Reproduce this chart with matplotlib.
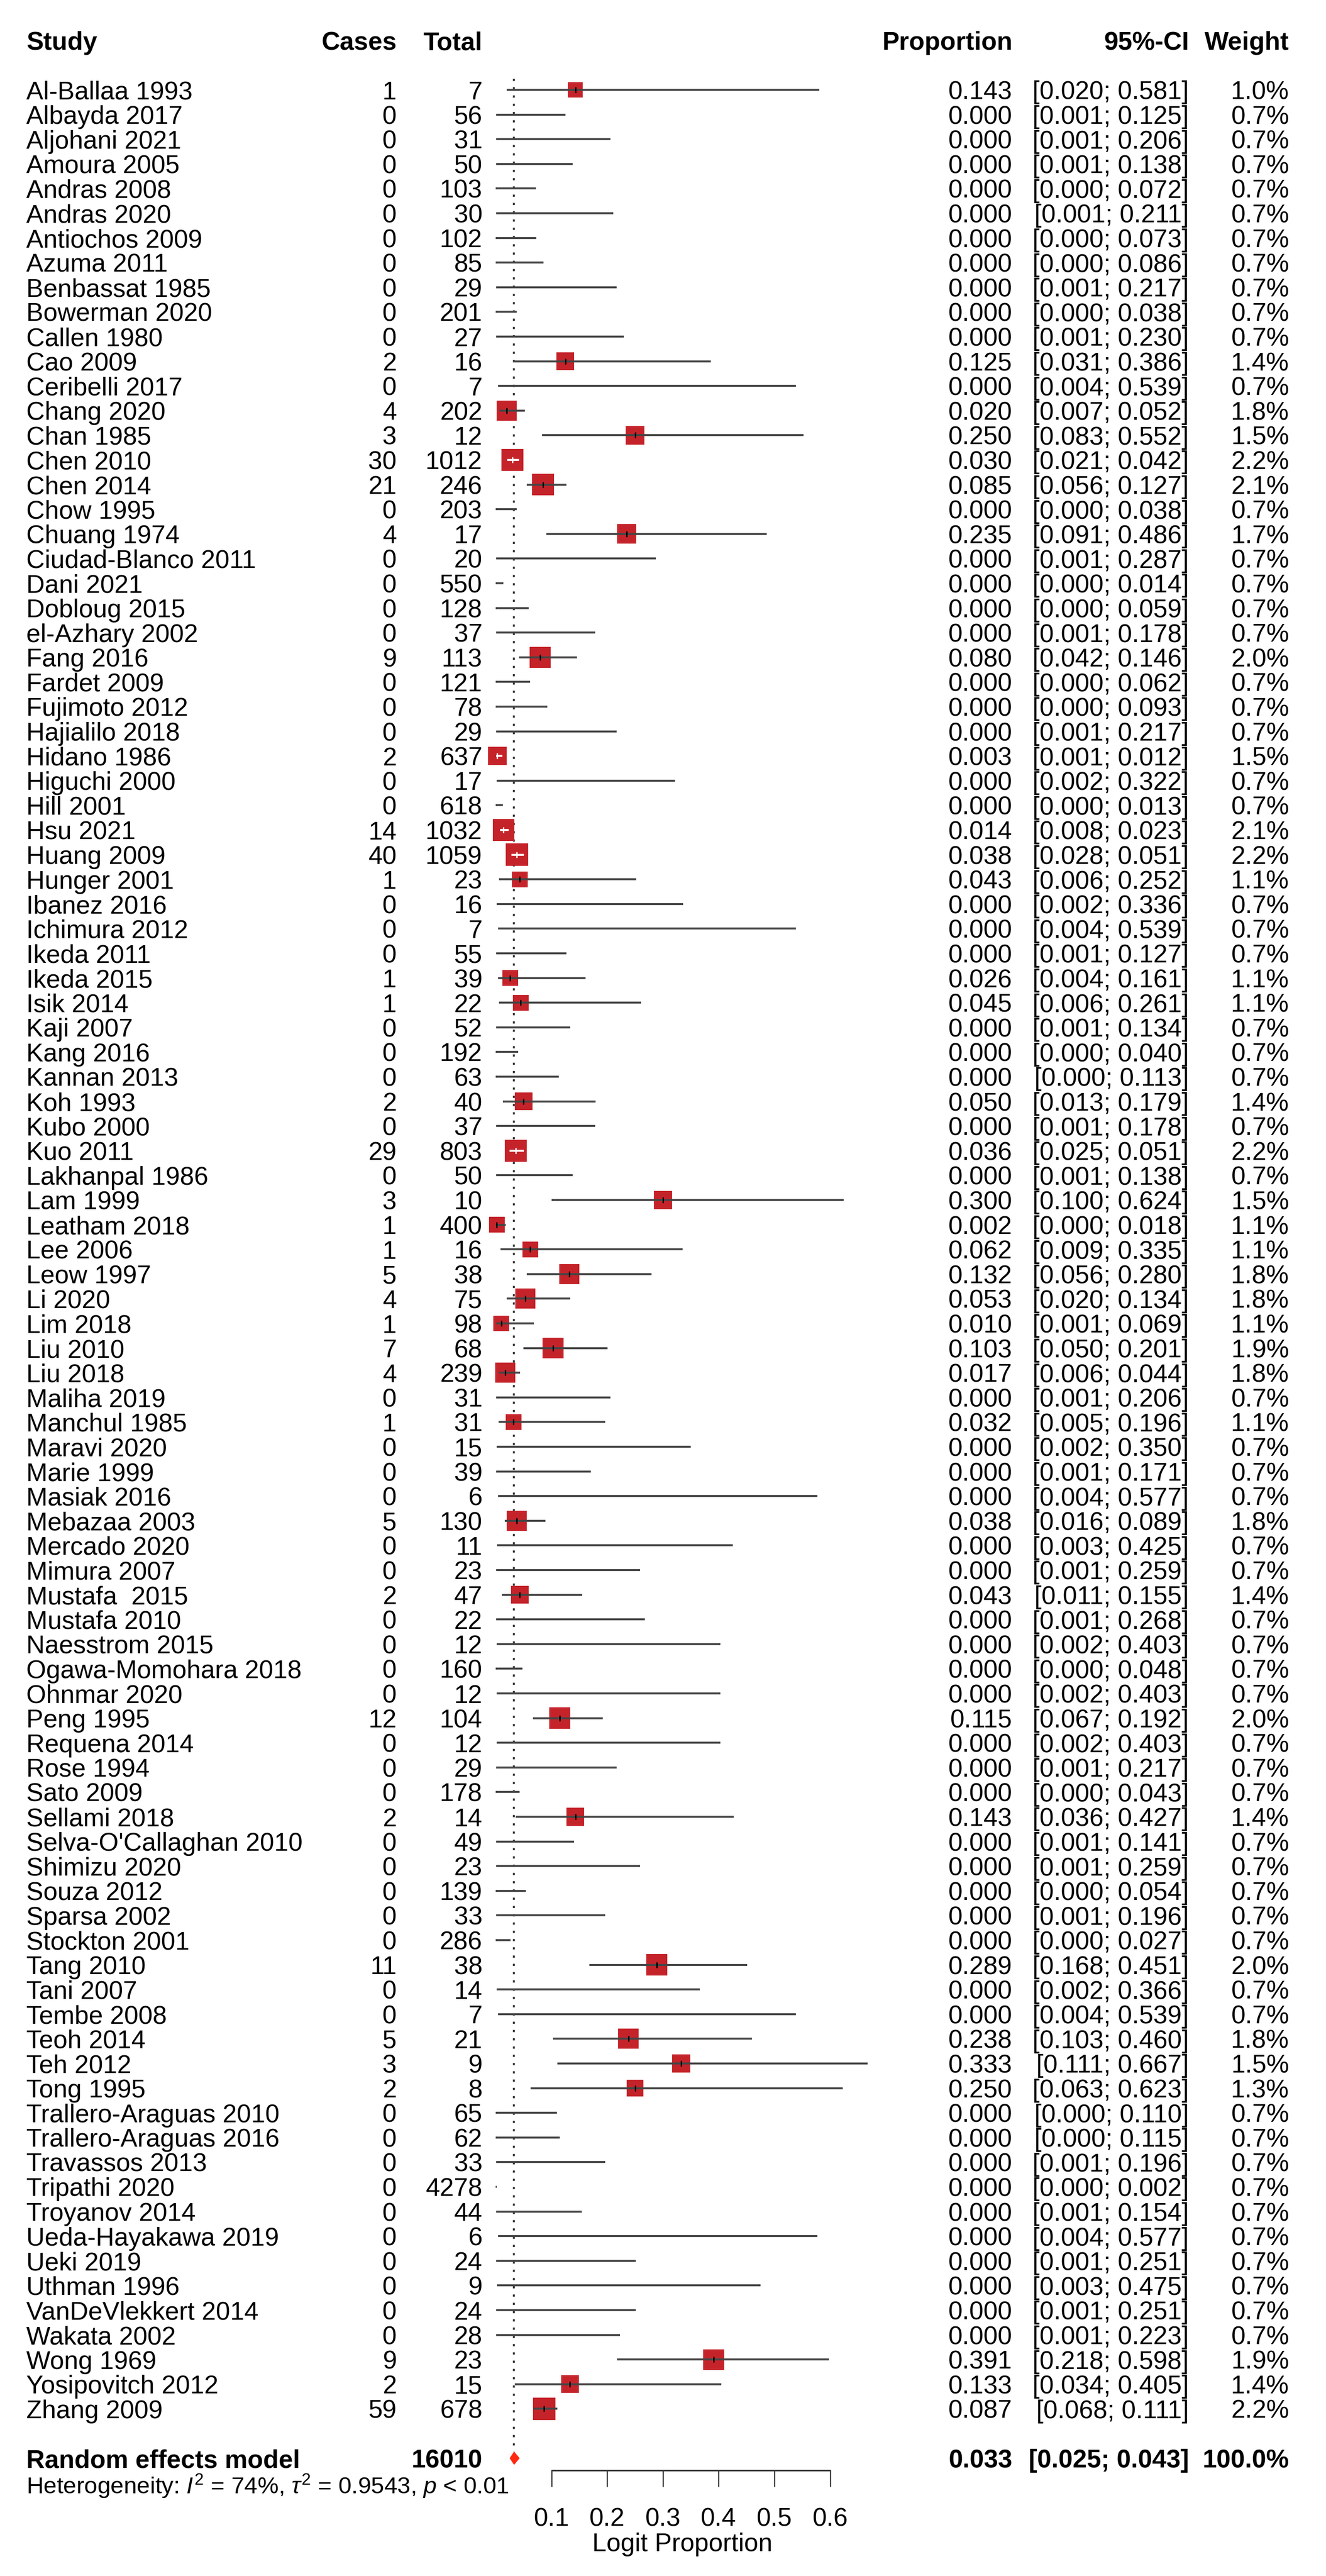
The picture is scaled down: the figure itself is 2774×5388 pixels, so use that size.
import numpy as np
import matplotlib
matplotlib.use('Agg')
import matplotlib.pyplot as plt
from matplotlib.patches import Rectangle, Polygon
from matplotlib.transforms import blended_transform_factory

plt.rcParams['font.family'] = ['Liberation Sans', 'DejaVu Sans']
plt.rcParams['mathtext.fontset'] = 'custom'
plt.rcParams['mathtext.rm'] = 'Liberation Sans'
plt.rcParams['mathtext.it'] = 'Liberation Sans:italic'
plt.rcParams['lines.scale_dashes'] = False

# study data
studies = [
    "Al-Ballaa 1993", "Albayda 2017", "Aljohani 2021", "Amoura 2005", "Andras 2008",
    "Andras 2020", "Antiochos 2009", "Azuma 2011", "Benbassat 1985", "Bowerman 2020",
    "Callen 1980", "Cao 2009", "Ceribelli 2017", "Chang 2020", "Chan 1985",
    "Chen 2010", "Chen 2014", "Chow 1995", "Chuang 1974", "Ciudad-Blanco 2011",
    "Dani 2021", "Dobloug 2015", "el-Azhary 2002", "Fang 2016", "Fardet 2009",
    "Fujimoto 2012", "Hajialilo 2018", "Hidano 1986", "Higuchi 2000", "Hill 2001",
    "Hsu 2021", "Huang 2009", "Hunger 2001", "Ibanez 2016", "Ichimura 2012",
    "Ikeda 2011", "Ikeda 2015", "Isik 2014", "Kaji 2007", "Kang 2016",
    "Kannan 2013", "Koh 1993", "Kubo 2000", "Kuo 2011", "Lakhanpal 1986",
    "Lam 1999", "Leatham 2018", "Lee 2006", "Leow 1997", "Li 2020",
    "Lim 2018", "Liu 2010", "Liu 2018", "Maliha 2019", "Manchul 1985",
    "Maravi 2020", "Marie 1999", "Masiak 2016", "Mebazaa 2003", "Mercado 2020",
    "Mimura 2007", "Mustafa  2015", "Mustafa 2010", "Naesstrom 2015", "Ogawa-Momohara 2018",
    "Ohnmar 2020", "Peng 1995", "Requena 2014", "Rose 1994", "Sato 2009",
    "Sellami 2018", "Selva-O'Callaghan 2010", "Shimizu 2020", "Souza 2012", "Sparsa 2002",
    "Stockton 2001", "Tang 2010", "Tani 2007", "Tembe 2008", "Teoh 2014",
    "Teh 2012", "Tong 1995", "Trallero-Araguas 2010", "Trallero-Araguas 2016", "Travassos 2013",
    "Tripathi 2020", "Troyanov 2014", "Ueda-Hayakawa 2019", "Ueki 2019", "Uthman 1996",
    "VanDeVlekkert 2014", "Wakata 2002", "Wong 1969", "Yosipovitch 2012", "Zhang 2009",
]
cases = [1, 0, 0, 0, 0, 0, 0, 0, 0, 0,
         0, 2, 0, 4, 3, 30, 21, 0, 4, 0,
         0, 0, 0, 9, 0, 0, 0, 2, 0, 0,
         14, 40, 1, 0, 0, 0, 1, 1, 0, 0,
         0, 2, 0, 29, 0, 3, 1, 1, 5, 4,
         1, 7, 4, 0, 1, 0, 0, 0, 5, 0,
         0, 2, 0, 0, 0, 0, 12, 0, 0, 0,
         2, 0, 0, 0, 0, 0, 11, 0, 0, 5,
         3, 2, 0, 0, 0, 0, 0, 0, 0, 0,
         0, 0, 9, 2, 59]
totals = [7, 56, 31, 50, 103, 30, 102, 85, 29, 201,
          27, 16, 7, 202, 12, 1012, 246, 203, 17, 20,
          550, 128, 37, 113, 121, 78, 29, 637, 17, 618,
          1032, 1059, 23, 16, 7, 55, 39, 22, 52, 192,
          63, 40, 37, 803, 50, 10, 400, 16, 38, 75,
          98, 68, 239, 31, 31, 15, 39, 6, 130, 11,
          23, 47, 22, 12, 160, 12, 104, 12, 29, 178,
          14, 49, 23, 139, 33, 286, 38, 14, 7, 21,
          9, 8, 65, 62, 33, 4278, 44, 6, 24, 9,
          24, 28, 23, 15, 678]
props = [0.143, 0.000, 0.000, 0.000, 0.000, 0.000, 0.000, 0.000, 0.000, 0.000,
         0.000, 0.125, 0.000, 0.020, 0.250, 0.030, 0.085, 0.000, 0.235, 0.000,
         0.000, 0.000, 0.000, 0.080, 0.000, 0.000, 0.000, 0.003, 0.000, 0.000,
         0.014, 0.038, 0.043, 0.000, 0.000, 0.000, 0.026, 0.045, 0.000, 0.000,
         0.000, 0.050, 0.000, 0.036, 0.000, 0.300, 0.002, 0.062, 0.132, 0.053,
         0.010, 0.103, 0.017, 0.000, 0.032, 0.000, 0.000, 0.000, 0.038, 0.000,
         0.000, 0.043, 0.000, 0.000, 0.000, 0.000, 0.115, 0.000, 0.000, 0.000,
         0.143, 0.000, 0.000, 0.000, 0.000, 0.000, 0.289, 0.000, 0.000, 0.238,
         0.333, 0.250, 0.000, 0.000, 0.000, 0.000, 0.000, 0.000, 0.000, 0.000,
         0.000, 0.000, 0.391, 0.133, 0.087]
ci_low = [0.020, 0.001, 0.001, 0.001, 0.000, 0.001, 0.000, 0.000, 0.001, 0.000,
          0.001, 0.031, 0.004, 0.007, 0.083, 0.021, 0.056, 0.000, 0.091, 0.001,
          0.000, 0.000, 0.001, 0.042, 0.000, 0.000, 0.001, 0.001, 0.002, 0.000,
          0.008, 0.028, 0.006, 0.002, 0.004, 0.001, 0.004, 0.006, 0.001, 0.000,
          0.000, 0.013, 0.001, 0.025, 0.001, 0.100, 0.000, 0.009, 0.056, 0.020,
          0.001, 0.050, 0.006, 0.001, 0.005, 0.002, 0.001, 0.004, 0.016, 0.003,
          0.001, 0.011, 0.001, 0.002, 0.000, 0.002, 0.067, 0.002, 0.001, 0.000,
          0.036, 0.001, 0.001, 0.000, 0.001, 0.000, 0.168, 0.002, 0.004, 0.103,
          0.111, 0.063, 0.000, 0.000, 0.001, 0.000, 0.001, 0.004, 0.001, 0.003,
          0.001, 0.001, 0.218, 0.034, 0.068]
ci_high = [0.581, 0.125, 0.206, 0.138, 0.072, 0.211, 0.073, 0.086, 0.217, 0.038,
           0.230, 0.386, 0.539, 0.052, 0.552, 0.042, 0.127, 0.038, 0.486, 0.287,
           0.014, 0.059, 0.178, 0.146, 0.062, 0.093, 0.217, 0.012, 0.322, 0.013,
           0.023, 0.051, 0.252, 0.336, 0.539, 0.127, 0.161, 0.261, 0.134, 0.040,
           0.113, 0.179, 0.178, 0.051, 0.138, 0.624, 0.018, 0.335, 0.280, 0.134,
           0.069, 0.201, 0.044, 0.206, 0.196, 0.350, 0.171, 0.577, 0.089, 0.425,
           0.259, 0.155, 0.268, 0.403, 0.048, 0.403, 0.192, 0.403, 0.217, 0.043,
           0.427, 0.141, 0.259, 0.054, 0.196, 0.027, 0.451, 0.366, 0.539, 0.460,
           0.667, 0.623, 0.110, 0.115, 0.196, 0.002, 0.154, 0.577, 0.251, 0.475,
           0.251, 0.223, 0.598, 0.405, 0.111]
weights = [1.0, 0.7, 0.7, 0.7, 0.7, 0.7, 0.7, 0.7, 0.7, 0.7,
           0.7, 1.4, 0.7, 1.8, 1.5, 2.2, 2.1, 0.7, 1.7, 0.7,
           0.7, 0.7, 0.7, 2.0, 0.7, 0.7, 0.7, 1.5, 0.7, 0.7,
           2.1, 2.2, 1.1, 0.7, 0.7, 0.7, 1.1, 1.1, 0.7, 0.7,
           0.7, 1.4, 0.7, 2.2, 0.7, 1.5, 1.1, 1.1, 1.8, 1.8,
           1.1, 1.9, 1.8, 0.7, 1.1, 0.7, 0.7, 0.7, 1.8, 0.7,
           0.7, 1.4, 0.7, 0.7, 0.7, 0.7, 2.0, 0.7, 0.7, 0.7,
           1.4, 0.7, 0.7, 0.7, 0.7, 0.7, 2.0, 0.7, 0.7, 1.8,
           1.5, 1.3, 0.7, 0.7, 0.7, 0.7, 0.7, 0.7, 0.7, 0.7,
           0.7, 0.7, 1.9, 1.4, 2.2]

# pooled estimate
pooled = 0.033
pooled_low = 0.025
pooled_high = 0.043
pooled_total = 16010
heterogeneity = r"Heterogeneity: $I^2$ = 74%, $\tau^2$ = 0.9543, $p$ < 0.01"

x_ticks = [0.1, 0.2, 0.3, 0.4, 0.5, 0.6]

# canvas geometry
W, H, DPI = 2774, 5388, 300
X0_PX = 1037        # pixel where proportion 0 sits
PX_PER_UNIT = 1166  # pixels per 1.0 proportion
ROW0_PX = 188
ROW_PX = 51.6
FS = 12.8

SQ_COLOR = '#C5232A'
LINE_COLOR = '#454545'

fig = plt.figure(figsize=(W / DPI, H / DPI), dpi=DPI)
ax = fig.add_axes([0, 0, 1, 1])
ax.axis('off')
ax.set_xlim(-X0_PX / PX_PER_UNIT, (W - X0_PX) / PX_PER_UNIT)
ax.set_ylim((H - ROW0_PX) / ROW_PX, -ROW0_PX / ROW_PX)

tr = blended_transform_factory(ax.transAxes, ax.transData)
col_study = 55 / W
col_cases = 830 / W
col_total = 1009 / W
col_prop = 2118 / W
col_ci = 2487 / W
col_weight = 2697 / W

n = len(studies)
rows = np.arange(n)
max_side = 46.5  # px, side of square for the largest weight
max_w = max(weights)

# header
hdr_y = -2
for txt, xc, ha in [("Study", col_study, 'left'), ("Cases", col_cases, 'right'),
                    ("Total", col_total, 'right'), ("Proportion", col_prop, 'right'),
                    ("95%-CI", col_ci, 'right'), ("Weight", col_weight, 'right')]:
    ax.text(xc, hdr_y, txt, transform=tr, ha=ha, va='center_baseline',
            fontsize=FS, fontweight='bold')

# pooled reference line (dotted)
diamond_half_h = 14 / ROW_PX
pooled_row = n + 1
ax.plot([pooled, pooled], [-0.45, pooled_row - diamond_half_h], color='#3a3a3a',
        lw=1.0, dashes=(1.1, 3.05), zorder=1, solid_capstyle='butt')

for i in rows:
    y = i
    ax.text(col_study, y, studies[i], transform=tr, ha='left', va='center_baseline', fontsize=FS)
    ax.text(col_cases, y, f"{cases[i]}", transform=tr, ha='right', va='center_baseline', fontsize=FS)
    ax.text(col_total, y, f"{totals[i]}", transform=tr, ha='right', va='center_baseline', fontsize=FS)
    ax.text(col_prop, y, f"{props[i]:.3f}", transform=tr, ha='right', va='center_baseline', fontsize=FS)
    ax.text(col_ci, y, f"[{ci_low[i]:.3f}; {ci_high[i]:.3f}]", transform=tr, ha='right',
            va='center_baseline', fontsize=FS)
    ax.text(col_weight, y, f"{weights[i]:.1f}%", transform=tr, ha='right', va='center_baseline', fontsize=FS)

    inside = False
    if cases[i] > 0:
        side = max_side * np.sqrt(weights[i] / max_w)
        sx = side / PX_PER_UNIT
        sy = side / ROW_PX
        ax.add_patch(Rectangle((props[i] - sx / 2, y - sy / 2), sx, sy,
                               facecolor=SQ_COLOR, edgecolor='none', zorder=2))
        inside = (ci_low[i] >= props[i] - sx / 2) and (ci_high[i] <= props[i] + sx / 2)
    lc = 'white' if inside else LINE_COLOR
    ax.plot([ci_low[i], ci_high[i]], [y, y], color=lc, lw=1.0, zorder=3,
            solid_capstyle='butt')
    if cases[i] > 0:
        tick_c = 'white' if inside else 'black'
        ax.plot([props[i], props[i]], [y - 6 / ROW_PX, y + 6 / ROW_PX], color=tick_c,
                lw=0.7, zorder=4, solid_capstyle='butt')

# random effects model row
ax.text(col_study, pooled_row, "Random effects model", transform=tr, ha='left',
        va='center_baseline', fontsize=FS, fontweight='bold')
ax.text(col_total, pooled_row, f"{pooled_total}", transform=tr, ha='right',
        va='center_baseline', fontsize=FS, fontweight='bold')
ax.text(col_prop, pooled_row, f"{pooled:.3f}", transform=tr, ha='right',
        va='center_baseline', fontsize=FS, fontweight='bold')
ax.text(col_ci, pooled_row, f"[{pooled_low:.3f}; {pooled_high:.3f}]", transform=tr, ha='right',
        va='center_baseline', fontsize=FS, fontweight='bold')
ax.text(col_weight, pooled_row, "100.0%", transform=tr, ha='right',
        va='center_baseline', fontsize=FS, fontweight='bold')
ax.add_patch(Polygon([(pooled_low, pooled_row), (pooled, pooled_row - diamond_half_h),
                      (pooled_high, pooled_row), (pooled, pooled_row + diamond_half_h)],
                     closed=True, facecolor='#FF2A10', edgecolor='none', zorder=3))

ax.text(col_study, pooled_row + 1, heterogeneity, transform=tr, ha='left',
        va='center_baseline', fontsize=11.85)

# bottom axis
axis_row = pooled_row + 0.5
tick_len = 33 / ROW_PX
ax.plot([x_ticks[0], x_ticks[-1]], [axis_row, axis_row], color='#333333', lw=0.8,
        solid_capstyle='butt')
for t in x_ticks:
    ax.plot([t, t], [axis_row, axis_row + tick_len], color='#333333', lw=0.6)
    ax.text(t, axis_row + 1.87, f"{t:.1f}", ha='center', va='center_baseline', fontsize=FS)
ax.text(0.335, axis_row + 2.88, "Logit Proportion", ha='center', va='center_baseline', fontsize=FS)

fig.savefig('out.png', dpi=DPI, facecolor='white')
